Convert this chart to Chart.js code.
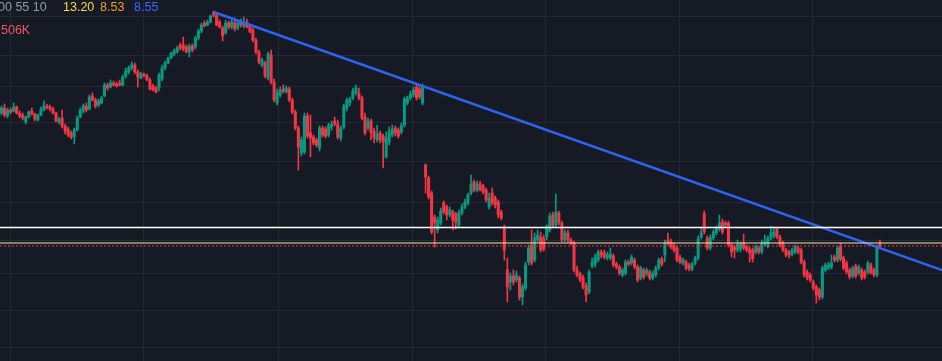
<html>
<head>
<style>
  body { margin: 0; background: #161a25; overflow: hidden; }
  #wrap { position: relative; width: 942px; height: 361px; }
  .lbl { position: absolute; font-family: "Liberation Sans", Arial, sans-serif; font-size: 12.5px; line-height: 12px; white-space: nowrap; }
</style>
</head>
<body>
<div id="wrap">
  <canvas id="candles" width="942" height="361"></canvas>
  <span class="lbl" style="left:-2px; top:1px; color:#9598a1;">00 55 10</span>
  <span class="lbl" style="left:63px; top:1px; color:#f5dc3a;">13.20</span>
  <span class="lbl" style="left:100px; top:1px; color:#ff9a1f;">8.53</span>
  <span class="lbl" style="left:134px; top:1px; color:#2f6bff;">8.55</span>
  <span class="lbl" style="left:1px; top:24px; color:#ef5a62;">506K</span>
</div>
<script src="https://cdn.jsdelivr.net/npm/chart.js"></script>
<script>
// candle prices, one entry per bar
const opens = [11.19,11.29,11.13,11.25,11.23,11.31,11.19,11.15,11.01,11.11,11.23,11.17,11.05,11.15,11.25,11.33,11.31,11.27,11.19,11.01,
  11.09,10.93,10.87,10.79,10.71,10.85,11.11,11.23,11.33,11.27,11.53,11.45,11.35,11.39,11.53,11.75,11.71,11.79,11.77,11.79,
  11.75,11.93,12.01,12.09,12.15,12.01,11.89,11.97,11.93,11.85,11.73,11.69,11.69,11.87,12.09,12.19,12.29,12.37,12.41,12.55,
  12.55,12.51,12.41,12.53,12.51,12.69,12.83,12.99,12.95,13.01,13.19,13.15,13.01,12.89,12.79,12.99,12.91,12.99,12.89,13.03,
  12.93,13.01,12.93,12.85,12.65,12.41,12.15,12.19,11.89,12.35,11.81,11.39,11.55,11.67,11.61,11.67,11.45,11.21,10.89,10.39,
  10.41,11.13,10.79,10.71,10.65,10.49,10.89,10.87,10.75,10.91,11.03,10.97,10.69,10.91,11.29,11.39,11.49,11.59,11.59,11.49,
  11.11,10.89,11.03,10.83,10.65,10.79,10.73,10.31,10.61,10.75,10.89,10.85,10.81,10.95,11.39,11.49,11.55,11.71,11.67,11.39,
  10.15,9.89,9.59,9.11,8.85,8.99,9.39,9.31,9.15,9.21,9.17,8.95,9.19,9.31,9.39,9.59,9.81,9.65,9.77,9.73,
  9.65,9.31,9.59,9.49,9.41,9.21,8.91,8.05,7.81,7.93,7.85,7.89,7.51,7.69,8.21,8.55,8.25,8.65,8.71,8.69,
  8.71,8.85,9.15,8.95,9.19,8.99,8.65,8.79,8.65,8.59,8.05,7.97,7.91,7.73,7.61,8.13,8.17,8.25,8.41,8.39,
  8.29,8.29,8.33,8.17,8.11,7.95,7.99,8.21,8.19,8.25,8.11,7.89,8.05,7.97,8.01,7.89,7.95,8.09,8.27,8.35,
  8.65,8.61,8.55,8.49,8.31,8.19,8.21,8.15,8.07,8.19,8.29,8.71,9.17,8.69,8.49,8.69,8.79,8.87,9.01,8.99,
  8.99,8.55,8.51,8.45,8.47,8.59,8.51,8.47,8.45,8.41,8.49,8.41,8.57,8.53,8.69,8.73,8.87,8.71,8.59,8.45,
  8.41,8.37,8.41,8.49,8.45,8.21,8.01,7.95,7.81,7.71,7.65,7.51,8.05,8.09,8.11,8.31,8.25,8.53,8.29,8.19,
  8.05,7.93,8.13,7.99,8.05,8.01,8.01,8.15,8.05,7.95,8.59];
const highs = [11.33,11.37,11.29,11.29,11.39,11.33,11.23,11.19,11.13,11.23,11.29,11.19,11.17,11.31,11.43,11.37,11.35,11.31,11.21,11.11,
  11.25,10.97,10.91,10.83,10.89,11.13,11.29,11.37,11.39,11.55,11.59,11.49,11.47,11.53,11.79,11.79,11.85,11.83,11.81,11.85,
  11.95,12.09,12.13,12.21,12.19,12.05,12.01,11.99,11.97,11.89,11.77,11.73,11.99,12.15,12.23,12.31,12.41,12.47,12.53,12.59,
  12.71,12.55,12.57,12.57,12.73,12.87,12.99,13.03,13.05,13.15,13.23,13.19,13.05,12.93,13.05,13.03,13.07,13.09,13.05,13.07,
  13.11,13.07,12.97,12.89,12.69,12.45,12.29,12.23,12.41,12.45,11.87,11.67,11.71,11.75,11.73,11.71,11.49,11.25,10.93,10.71,
  11.19,11.19,11.15,10.75,10.69,10.93,10.93,10.91,10.99,11.03,11.11,11.05,10.93,11.37,11.49,11.51,11.69,11.75,11.69,11.53,
  11.19,11.09,11.07,10.89,10.95,10.83,10.77,10.81,10.91,10.95,10.93,10.89,10.99,11.51,11.53,11.63,11.71,11.77,11.73,11.77,
  10.17,9.93,9.63,9.15,9.11,9.29,9.43,9.35,9.31,9.25,9.21,9.25,9.37,9.47,9.59,9.95,9.85,9.83,9.83,9.77,
  9.69,9.59,9.69,9.53,9.45,9.25,8.95,8.29,7.99,8.05,8.03,7.93,7.77,8.21,8.55,8.85,8.79,8.85,8.81,8.75,
  8.95,9.19,9.21,9.57,9.23,9.03,8.85,8.85,8.69,8.63,8.13,8.01,7.95,7.79,8.05,8.29,8.37,8.45,8.45,8.45,
  8.41,8.49,8.37,8.21,8.15,8.09,8.25,8.25,8.35,8.29,8.15,8.13,8.09,8.09,8.05,8.03,8.13,8.29,8.31,8.65,
  8.79,8.67,8.59,8.53,8.35,8.29,8.25,8.19,8.21,8.33,8.73,8.91,9.23,8.73,8.75,8.85,8.93,9.15,9.07,9.03,
  9.03,8.59,8.55,8.65,8.61,8.77,8.55,8.51,8.49,8.55,8.53,8.65,8.75,8.73,8.93,8.91,8.91,8.75,8.63,8.49,
  8.45,8.49,8.55,8.53,8.49,8.25,8.05,7.99,7.85,7.75,7.69,8.13,8.19,8.21,8.35,8.35,8.53,8.59,8.33,8.23,
  8.09,8.13,8.17,8.15,8.09,8.05,8.23,8.19,8.09,8.55,8.65];
const lows = [11.15,11.11,11.09,11.17,11.21,11.17,11.09,11.05,10.97,11.09,11.15,11.03,11.03,11.13,11.23,11.27,11.23,11.17,11.01,10.97,
  10.89,10.77,10.71,10.67,10.57,10.83,11.09,11.19,11.21,11.25,11.43,11.29,11.31,11.37,11.51,11.65,11.69,11.73,11.71,11.73,
  11.73,11.89,11.97,12.05,11.97,11.71,11.87,11.91,11.83,11.65,11.63,11.59,11.63,11.83,12.05,12.17,12.27,12.33,12.39,12.45,
  12.43,12.39,12.31,12.41,12.47,12.65,12.79,12.91,12.93,12.99,13.11,12.93,12.89,12.63,12.77,12.87,12.87,12.83,12.85,12.91,
  12.89,12.89,12.79,12.61,12.37,12.17,12.11,11.89,11.85,11.77,11.41,11.35,11.51,11.59,11.59,11.41,11.17,10.85,10.05,10.33,
  10.37,10.69,10.31,10.55,10.51,10.43,10.71,10.69,10.71,10.85,10.93,10.67,10.63,10.87,11.23,11.33,11.45,11.55,11.45,11.05,
  10.75,10.85,10.65,10.59,10.61,10.59,10.09,10.29,10.55,10.71,10.73,10.69,10.77,10.91,11.35,11.45,11.51,11.45,11.47,11.35,
  9.59,9.47,8.77,8.51,8.79,8.95,9.17,9.05,9.11,8.85,8.87,8.91,9.15,9.27,9.35,9.55,9.61,9.61,9.63,9.57,
  9.41,9.27,9.35,9.29,9.09,9.05,8.25,7.41,7.65,7.75,7.81,7.45,7.35,7.65,8.15,8.15,8.21,8.61,8.41,8.43,
  8.65,8.81,8.91,8.91,8.95,8.61,8.61,8.61,8.55,8.01,7.91,7.81,7.67,7.41,7.57,8.09,8.11,8.21,8.29,8.27,
  8.25,8.25,8.11,8.07,7.95,7.91,7.95,8.13,8.15,8.07,7.81,7.85,7.87,7.93,7.85,7.85,7.91,8.05,8.13,8.21,
  8.55,8.47,8.41,8.21,8.17,8.15,8.05,8.03,8.03,8.15,8.25,8.67,8.77,8.45,8.45,8.65,8.75,8.83,8.77,8.91,
  8.51,8.31,8.29,8.41,8.41,8.45,8.41,8.21,8.21,8.37,8.37,8.37,8.53,8.49,8.65,8.69,8.67,8.51,8.41,8.31,
  8.29,8.33,8.37,8.37,8.17,7.91,7.85,7.81,7.65,7.39,7.45,7.47,8.01,8.05,8.07,8.21,8.21,8.23,8.05,7.97,
  7.87,7.89,7.89,7.95,7.85,7.87,7.97,7.97,7.91,7.91,8.49];
const closes = [11.29,11.15,11.25,11.21,11.31,11.19,11.13,11.09,11.11,11.21,11.17,11.07,11.15,11.25,11.33,11.29,11.27,11.19,11.03,11.07,
  10.93,10.83,10.75,10.71,10.85,11.09,11.25,11.33,11.25,11.51,11.45,11.33,11.43,11.49,11.75,11.69,11.79,11.75,11.73,11.75,
  11.91,12.03,12.09,12.15,12.01,11.91,11.97,11.93,11.85,11.67,11.65,11.61,11.95,12.09,12.19,12.29,12.39,12.43,12.49,12.49,
  12.47,12.41,12.53,12.45,12.69,12.83,12.95,12.93,13.01,13.13,13.15,12.95,12.91,12.73,12.99,12.91,13.01,12.87,12.99,12.95,
  13.01,12.91,12.81,12.65,12.41,12.21,12.25,11.93,12.37,11.81,11.45,11.59,11.65,11.63,11.69,11.45,11.21,10.89,10.51,10.65,
  11.13,10.73,10.69,10.59,10.55,10.89,10.75,10.73,10.95,10.97,10.97,10.71,10.89,11.33,11.45,11.47,11.63,11.69,11.49,11.09,
  10.79,11.03,10.79,10.69,10.77,10.65,10.61,10.69,10.83,10.87,10.79,10.73,10.93,11.47,11.49,11.57,11.65,11.49,11.51,11.71,
  9.91,9.51,8.81,8.99,9.05,9.23,9.21,9.15,9.25,9.05,9.01,9.19,9.31,9.41,9.55,9.77,9.65,9.77,9.65,9.61,
  9.45,9.49,9.39,9.35,9.15,9.09,8.45,7.71,7.93,7.81,7.95,7.51,7.71,8.15,8.49,8.19,8.69,8.75,8.45,8.47,
  8.91,9.13,8.95,9.21,8.99,8.65,8.79,8.65,8.59,8.05,7.95,7.85,7.71,7.55,8.01,8.21,8.31,8.41,8.35,8.31,
  8.35,8.37,8.15,8.11,7.99,8.05,8.21,8.17,8.31,8.11,7.85,8.09,7.91,8.05,7.89,7.97,8.09,8.25,8.17,8.59,
  8.59,8.51,8.45,8.25,8.21,8.25,8.09,8.07,8.17,8.29,8.67,8.79,8.81,8.49,8.69,8.81,8.89,8.99,8.81,8.95,
  8.55,8.41,8.45,8.57,8.57,8.49,8.45,8.39,8.27,8.51,8.41,8.59,8.61,8.69,8.79,8.81,8.71,8.55,8.45,8.35,
  8.35,8.45,8.51,8.41,8.21,7.95,7.89,7.85,7.69,7.55,7.51,8.09,8.15,8.15,8.19,8.25,8.49,8.27,8.09,8.01,
  7.91,8.09,7.93,8.11,7.89,7.91,8.19,7.99,7.95,8.49,8.53];

// price levels drawn across the chart: resistance, previous close, last price
const levelPrices = [8.90, 8.59, 8.53];
// trendline from the top (bar 70) down to the right edge
const trendX = [70, 310.5];
const trendY = [13.21, 8.05];
// where the background grid falls (prices / bar positions)
const gridPrices = [13.11, 12.33, 11.71, 11.01, 10.23, 9.41, 8.65, 7.99, 7.25, 6.51];
const gridBars = [24.9, 68.8, 114.1, 157.6, 201.6, 245.8, 289.7];

const upColor = "#089981";
const downColor = "#f23645";
const gridColor = "#242834";
const levelStyles = [
  { color: "#ffffff", width: 1.6, dash: [] },
  { color: "#f3e6b0", width: 1.2, dash: [] },
  { color: "#f23645", width: 1.2, dash: [2, 2] }
];

const barColors = closes.map((c, i) => (c >= opens[i] ? upColor : downColor));

const levelLines = {
  id: "levelLines",
  afterDatasetsDraw(chart) {
    const { ctx, chartArea, scales } = chart;
    levelPrices.forEach((p, i) => {
      const st = levelStyles[i];
      const y = scales.y.getPixelForValue(p);
      ctx.save();
      ctx.strokeStyle = st.color;
      ctx.lineWidth = st.width;
      ctx.setLineDash(st.dash);
      ctx.beginPath();
      ctx.moveTo(chartArea.left, y);
      ctx.lineTo(chartArea.right, y);
      ctx.stroke();
      ctx.restore();
    });
  }
};

const bgPlugin = {
  id: "bg",
  beforeDraw(chart) {
    const ctx = chart.ctx;
    ctx.save();
    ctx.fillStyle = "#161a25";
    ctx.fillRect(0, 0, chart.width, chart.height);
    ctx.restore();
  }
};

new Chart(document.getElementById("candles").getContext("2d"), {
  type: "bar",
  data: {
    datasets: [{
      type: "line",
      data: trendX.map((x, i) => ({ x: x, y: trendY[i] })),
      borderColor: "#2d63f0",
      borderWidth: 2.5,
      pointRadius: 0,
      order: 1
    }, {
      data: opens.map((o, i) => ({ x: i, y: [o, closes[i]] })),
      backgroundColor: barColors,
      barThickness: 2.4,
      grouped: false,
      order: 2
    }, {
      data: highs.map((h, i) => ({ x: i, y: [lows[i], h] })),
      backgroundColor: barColors,
      barThickness: 1,
      grouped: false,
      order: 3
    }]
  },
  options: {
    responsive: false,
    animation: false,
    events: [],
    layout: { padding: 0 },
    plugins: { legend: { display: false }, tooltip: { enabled: false } },
    scales: {
      x: {
        type: "linear",
        min: -0.5,
        max: 310.5,
        offset: false,
        afterBuildTicks: (scale) => { scale.ticks = gridBars.map(v => ({ value: v })); },
        ticks: { display: false },
        grid: { color: gridColor, drawTicks: false },
        border: { display: false }
      },
      y: {
        min: 6.23,
        max: 13.45,
        afterBuildTicks: (scale) => { scale.ticks = gridPrices.map(v => ({ value: v })); },
        ticks: { display: false },
        grid: { color: gridColor, drawTicks: false },
        border: { display: false }
      }
    }
  },
  plugins: [bgPlugin, levelLines]
});
</script>
</body>
</html>
